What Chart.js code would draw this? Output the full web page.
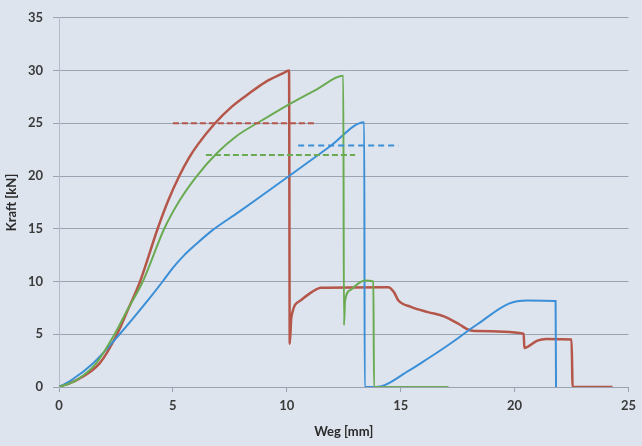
<!DOCTYPE html>
<html>
<head>
<meta charset="utf-8">
<script src="https://cdn.jsdelivr.net/npm/chart.js@4/dist/chart.umd.min.js"></script>
<style>
html,body{margin:0;padding:0;background:#dde4ed;}
#wrap{width:642px;height:446px;}
</style>
</head>
<body>
<div id="wrap"><canvas id="c" width="642" height="446"></canvas></div>
<script>
// Weg [mm] / Kraft [kN] samples
const redX   = [0,0.77,1.79,2.55,3.0,3.56,4.33,4.8,5.28,5.7,6.1,6.85,7.6,8.33,9.06,9.8,10.1,10.13,10.2,10.6,11.1,11.5,14.45,14.7,14.9,15.45,16.2,16.9,17.6,18.0,18.3,20.4,20.43,21.0,21.4,22.5,22.55,24.3];
const redY   = [0,0.66,2.26,5.0,7.2,10.0,15.0,17.7,20.0,21.7,23.0,25.0,26.6,27.8,28.9,29.7,30.0,4.1,6.6,8.2,9.0,9.4,9.45,9.0,8.2,7.6,7.1,6.7,5.9,5.4,5.3,5.05,3.7,4.4,4.55,4.5,0,0];
const greenX = [0,0.77,1.64,2.44,3.0,3.68,4.62,5.3,6.05,6.95,7.8,8.77,10.1,11.3,12.48,12.51,12.56,12.8,13.13,13.4,13.8,13.83,17.1];
const greenY = [0,0.66,2.26,5.0,7.3,10.0,15.0,17.7,20.0,22.2,23.8,25.1,26.8,28.2,29.5,5.85,8.2,9.2,9.8,10.1,10.0,0,0];
const blueX  = [0,0.55,1.5,2.66,3.97,4.55,5.0,5.5,6.0,6.7,7.9,9.0,10.1,11.95,13.4,13.42,13.9,15.4,16.2,16.9,17.5,18.0,18.4,19.75,20.55,21.8,21.82];
const blueY  = [0,0.66,2.26,5.0,8.4,10.0,11.3,12.5,13.5,14.8,16.6,18.3,20.0,22.9,25.1,0,0,1.6,2.7,3.7,4.6,5.4,6.0,7.9,8.2,8.15,0];
// dashed reference levels: [x start, x end], level
const redDashX   = [5.0,11.2];   const redDashY = 25.0;
const greenDashX = [6.45,13.0];  const greenDashY = 22.0;
const blueDashX  = [10.5,14.9];  const blueDashY = 22.9;
const xTicks = [0,5,10,15,20,25];
const yTicks = [0,5,10,15,20,25,30,35];

const RED='#b5564a', GREEN='#6aab52', BLUE='#3a8fd8';
const pts=(xs,ys)=>xs.map((x,i)=>({x:x,y:ys[i]}));
const dash=(xs,y)=>xs.map(x=>({x:x,y:y}));

const bg={id:'bg',beforeDraw(ch){const c=ch.ctx;c.save();c.fillStyle='#dde4ed';c.fillRect(0,0,ch.width,ch.height);c.restore();}};

new Chart(document.getElementById('c'),{
  type:'scatter',
  data:{datasets:[
    {data:dash(redDashX,redDashY),borderColor:RED,borderWidth:2,borderDash:[6,3],showLine:true,pointRadius:0},
    {data:dash(greenDashX,greenDashY),borderColor:GREEN,borderWidth:2,borderDash:[6,3],showLine:true,pointRadius:0},
    {data:dash(blueDashX,blueDashY),borderColor:BLUE,borderWidth:2,borderDash:[6,4],showLine:true,pointRadius:0},
    {data:pts(greenX,greenY),borderColor:GREEN,borderWidth:2,showLine:true,pointRadius:0,cubicInterpolationMode:'monotone'},
    {data:pts(blueX,blueY),borderColor:BLUE,borderWidth:2,showLine:true,pointRadius:0,cubicInterpolationMode:'monotone'},
    {data:pts(redX,redY),borderColor:RED,borderWidth:2.5,showLine:true,pointRadius:0,cubicInterpolationMode:'monotone'}
  ]},
  options:{
    responsive:false,animation:false,
    layout:{padding:{top:16,right:10,left:0,bottom:0}},
    plugins:{legend:{display:false},tooltip:{enabled:false}},
    scales:{
      x:{type:'linear',min:0,max:25,
        afterBuildTicks(s){s.ticks=xTicks.map(v=>({value:v}));},
        afterFit(s){s.height=59;},
        grid:{drawOnChartArea:false,drawTicks:true,tickLength:5,color:'#9aa3b2'},
        border:{display:true,color:'#9aa3b2',width:1},
        ticks:{color:'#3a3a3a',font:{family:'Lato',size:13,weight:'bold'},padding:6,maxRotation:0},
        title:{display:true,text:'Weg [mm]',color:'#2a2a2a',font:{family:'Lato',size:13,weight:'bold'},padding:{top:0,bottom:6}}
      },
      y:{min:0,max:35,
        afterBuildTicks(s){s.ticks=yTicks.map(v=>({value:v}));},
        afterFit(s){s.width=59;},
        grid:{color:'#9aa3b2',lineWidth:1,drawTicks:true,tickLength:6},
        border:{display:true,color:'#b4bccb',width:1},
        ticks:{color:'#3a3a3a',font:{family:'Lato',size:13,weight:'bold'},padding:10},
        title:{display:true,text:'Kraft [kN]',color:'#2a2a2a',font:{family:'Lato',size:13,weight:'bold'},padding:{top:4,bottom:0}}
      }
    }
  },
  plugins:[bg]
});
</script>
</body>
</html>
